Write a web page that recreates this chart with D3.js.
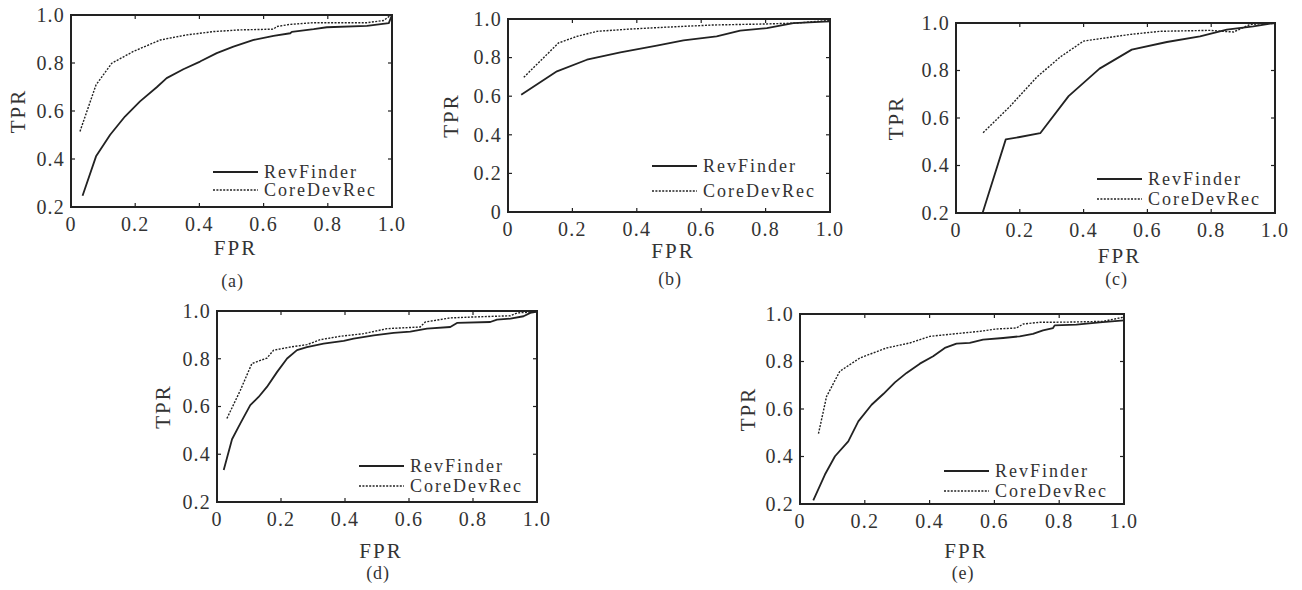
<!DOCTYPE html>
<html><head><meta charset="utf-8">
<script src="https://cdn.jsdelivr.net/npm/d3@7"></script>
<style>
body{margin:0;background:#fff}
svg{display:block}
text{font-family:"Liberation Serif","Times New Roman",serif;fill:#333}
</style>
</head><body>
<svg id="chart" width="1302" height="590"></svg>
<script>
// ---------- data ----------
const seriesNames = ["RevFinder", "CoreDevRec"];
const panelLabels = ["(a)", "(b)", "(c)", "(d)", "(e)"];
const xTicks = [0, 0.2, 0.4, 0.6, 0.8, 1.0];
const yTicksFrom02 = [0.2, 0.4, 0.6, 0.8, 1.0];
const yTicksFrom0 = [0, 0.2, 0.4, 0.6, 0.8, 1.0];

const revA = [[0.036,0.247],[0.078,0.411],[0.122,0.501],[0.168,0.577],[0.215,0.640],[0.267,0.699],[0.298,0.737],[0.350,0.774],[0.402,0.806],[0.454,0.841],[0.506,0.868],[0.569,0.896],[0.631,0.913],[0.683,0.924],[0.688,0.930],[0.756,0.941],[0.797,0.949],[0.922,0.955],[0.990,0.966],[1.0,1.0]];
const coreA = [[0.028,0.515],[0.078,0.709],[0.127,0.799],[0.194,0.848],[0.278,0.896],[0.361,0.917],[0.444,0.931],[0.527,0.938],[0.631,0.941],[0.641,0.952],[0.683,0.961],[0.756,0.968],[0.922,0.968],[0.974,0.977],[0.990,0.993],[1.0,1.0]];

const revB = [[0.041,0.608],[0.152,0.729],[0.245,0.789],[0.349,0.827],[0.462,0.862],[0.545,0.889],[0.648,0.910],[0.721,0.940],[0.804,0.953],[0.886,0.979],[1.0,0.988],[1.0,1.0]];
const coreB = [[0.049,0.698],[0.157,0.876],[0.214,0.910],[0.276,0.936],[0.380,0.948],[0.483,0.957],[0.638,0.969],[0.793,0.974],[0.897,0.979],[1.0,0.993]];

const revC = [[0.084,0.203],[0.156,0.510],[0.196,0.519],[0.264,0.536],[0.353,0.692],[0.450,0.808],[0.551,0.888],[0.661,0.920],[0.765,0.944],[0.849,0.972],[0.932,0.986],[1.0,1.0]];
const coreC = [[0.085,0.538],[0.170,0.650],[0.254,0.773],[0.327,0.857],[0.400,0.924],[0.452,0.934],[0.546,0.952],[0.640,0.965],[0.796,0.969],[0.870,0.962],[0.922,0.994],[1.0,1.0]];

const revD = [[0.021,0.334],[0.047,0.463],[0.073,0.529],[0.104,0.606],[0.130,0.640],[0.156,0.682],[0.188,0.745],[0.219,0.801],[0.250,0.836],[0.281,0.849],[0.333,0.863],[0.396,0.875],[0.427,0.884],[0.490,0.898],[0.552,0.908],[0.604,0.914],[0.656,0.926],[0.729,0.933],[0.750,0.950],[0.854,0.954],[0.875,0.964],[0.917,0.968],[0.958,0.978],[0.979,0.992],[1.0,0.997]];
const coreD = [[0.031,0.550],[0.073,0.668],[0.109,0.780],[0.156,0.803],[0.177,0.836],[0.229,0.849],[0.281,0.859],[0.323,0.880],[0.385,0.894],[0.458,0.905],[0.531,0.926],[0.635,0.933],[0.651,0.954],[0.729,0.971],[0.802,0.975],[0.917,0.980],[0.938,0.992],[1.0,0.997]];

const revE = [[0.041,0.215],[0.077,0.324],[0.108,0.401],[0.149,0.464],[0.180,0.548],[0.221,0.618],[0.257,0.663],[0.293,0.712],[0.329,0.752],[0.370,0.791],[0.411,0.822],[0.447,0.857],[0.483,0.875],[0.524,0.878],[0.565,0.892],[0.627,0.899],[0.678,0.906],[0.719,0.916],[0.750,0.931],[0.781,0.941],[0.786,0.952],[0.853,0.955],[0.925,0.965],[1.0,0.973]];
const coreE = [[0.057,0.496],[0.082,0.653],[0.123,0.759],[0.185,0.815],[0.267,0.857],[0.339,0.878],[0.401,0.906],[0.473,0.916],[0.555,0.927],[0.606,0.937],[0.668,0.941],[0.689,0.958],[0.740,0.965],[0.832,0.966],[0.935,0.969],[1.0,0.987]];

// ---------- layout ----------
const panels = [
  {cap:panelLabels[0], rev:revA, core:coreA, yTicks:yTicksFrom02, box:[71,15,392,207],  leg:[213,172,190], tprX:25,  fprY:255, capY:287},
  {cap:panelLabels[1], rev:revB, core:coreB, yTicks:yTicksFrom0,  box:[508,19,830,212], leg:[652,166,191], tprX:458, fprY:258, capY:285},
  {cap:panelLabels[2], rev:revC, core:coreC, yTicks:yTicksFrom02, box:[956,23,1275,213],leg:[1097,179,199],tprX:903, fprY:263, capY:285},
  {cap:panelLabels[3], rev:revD, core:coreD, yTicks:yTicksFrom02, box:[217,311,537,502],leg:[359,466,486], tprX:170, fprY:558, capY:579},
  {cap:panelLabels[4], rev:revE, core:coreE, yTicks:yTicksFrom02, box:[800,314,1124,504],leg:[944,471,491], tprX:755, fprY:558, capY:579}
];

const svg = d3.select("#chart");
const ink = "#222";
const fmt = v => v === 0 ? "0" : (v === 1 ? "1.0" : d3.format(".1f")(v));

panels.forEach((p) => {
  const [x0, y0, x1, y1] = p.box;
  const x = d3.scaleLinear().domain([0, 1]).range([x0, x1]);
  const y = d3.scaleLinear().domain([p.yTicks[0], 1]).range([y1, y0]);
  const g = svg.append("g");

  // tick marks (inward, all four sides)
  const tl = 4;
  const ticksG = g.append("g").attr("stroke", ink).attr("stroke-width", 1.2);
  xTicks.forEach(t => {
    ticksG.append("line").attr("x1", x(t)).attr("x2", x(t)).attr("y1", y1).attr("y2", y1 - tl);
    ticksG.append("line").attr("x1", x(t)).attr("x2", x(t)).attr("y1", y0).attr("y2", y0 + tl);
  });
  p.yTicks.forEach(t => {
    ticksG.append("line").attr("x1", x0).attr("x2", x0 + tl).attr("y1", y(t)).attr("y2", y(t));
    ticksG.append("line").attr("x1", x1).attr("x2", x1 - tl).attr("y1", y(t)).attr("y2", y(t));
  });

  // tick labels
  g.append("g").selectAll("text").data(xTicks).join("text")
    .attr("x", d => x(d)).attr("y", y1 + 24).attr("text-anchor", "middle")
    .attr("font-size", 20).attr("letter-spacing", "1.2px").text(fmt);
  g.append("g").selectAll("text").data(p.yTicks).join("text")
    .attr("x", x0 - 6).attr("y", d => y(d)).attr("dy", "0.34em").attr("text-anchor", "end")
    .attr("font-size", 20).attr("letter-spacing", "1.2px").text(fmt);

  // curves
  const line = d3.line().x(d => x(d[0])).y(d => y(d[1]));
  g.append("path").datum(p.rev).attr("d", line).attr("fill", "none")
    .attr("stroke", ink).attr("stroke-width", 1.8).attr("stroke-linejoin", "round");
  g.append("path").datum(p.core).attr("d", line).attr("fill", "none")
    .attr("stroke", ink).attr("stroke-width", 1.4).attr("stroke-dasharray", "2,1.4");

  // frame
  g.append("rect").attr("x", x0).attr("y", y0).attr("width", x1 - x0).attr("height", y1 - y0)
    .attr("fill", "none").attr("stroke", ink).attr("stroke-width", 2);

  // legend
  const [lx, ly1, ly2] = p.leg;
  g.append("line").attr("x1", lx).attr("x2", lx + 45).attr("y1", ly1).attr("y2", ly1)
    .attr("stroke", ink).attr("stroke-width", 1.8);
  g.append("line").attr("x1", lx).attr("x2", lx + 45).attr("y1", ly2).attr("y2", ly2)
    .attr("stroke", ink).attr("stroke-width", 1.4).attr("stroke-dasharray", "2,1.4");
  g.append("text").attr("x", lx + 51).attr("y", ly1 + 6).attr("font-size", 18)
    .attr("letter-spacing", "2px").text(seriesNames[0]);
  g.append("text").attr("x", lx + 51).attr("y", ly2 + 6).attr("font-size", 18)
    .attr("letter-spacing", "2px").text(seriesNames[1]);

  // axis titles
  g.append("text").attr("x", (x0 + x1) / 2 + 4).attr("y", p.fprY).attr("text-anchor", "middle")
    .attr("font-size", 21).attr("letter-spacing", "2px").text("FPR");
  g.append("text").attr("transform", `translate(${p.tprX},${(y0 + y1) / 2}) rotate(-90)`)
    .attr("text-anchor", "middle").attr("font-size", 21).attr("letter-spacing", "2px").text("TPR");

  // sub-caption
  g.append("text").attr("x", (x0 + x1) / 2 + 1).attr("y", p.capY).attr("text-anchor", "middle")
    .attr("font-size", 18).attr("letter-spacing", "0.8px").text(p.cap);
});
</script>
</body></html>
